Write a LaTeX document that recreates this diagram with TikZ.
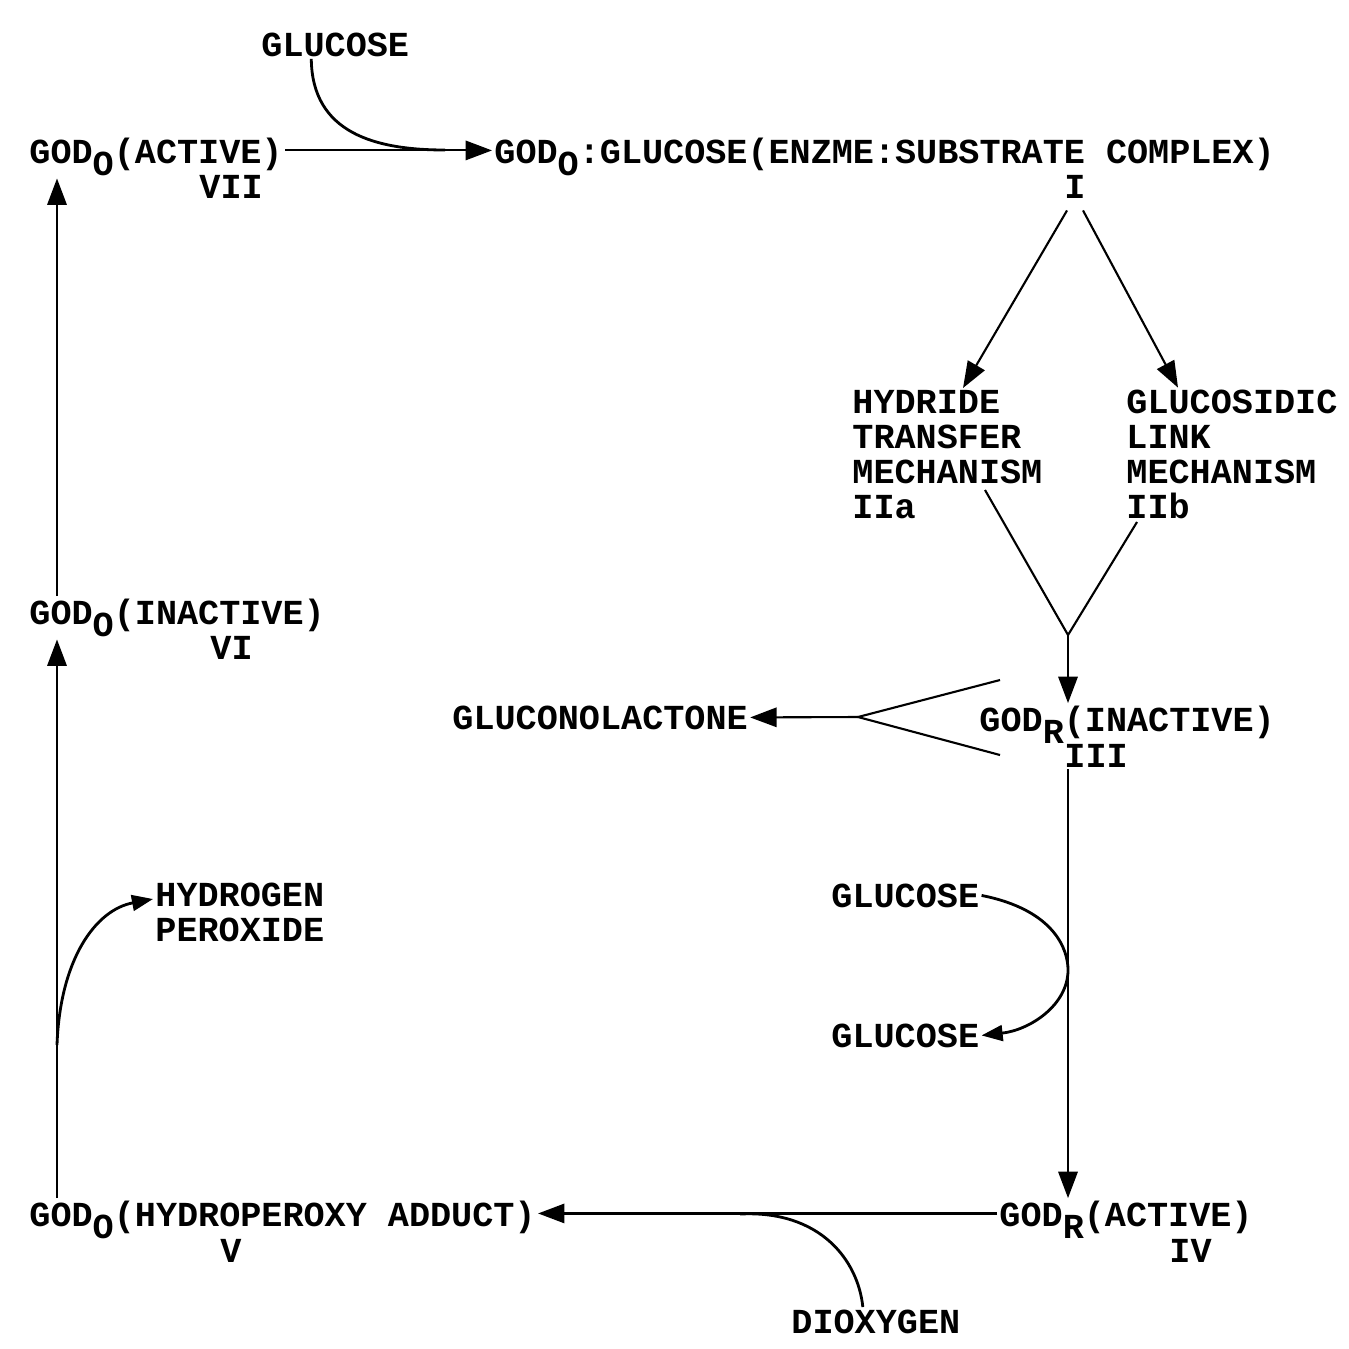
\documentclass[tikz,border=0pt]{standalone}
\usepackage{fontspec}
\setmonofont{Liberation Mono}
\usetikzlibrary{arrows.meta}
\newcommand\lowsub[1]{\raisebox{-0.36em}{#1}}
\tikzset{
  txt/.style={inner sep=0.5pt, anchor=base west, align=left},
  flow/.style={line width=0.6pt},
  arr/.style={flow, -{Triangle[length=7.5pt,width=5.5pt]}},
  curvy/.style={line width=0.8pt},
}
\begin{document}
\begin{tikzpicture}[font=\ttfamily\bfseries\fontsize{10}{9.9}\selectfont]
  \useasboundingbox (0,0) rectangle (13.49,-13.48);
  % species
  \node[txt] (glcin) at (2.59,-0.56) {GLUCOSE};
  \node[txt] (act) at (0.27,-1.63) {GOD\lowsub{O}(ACTIVE)};
  \node[txt] (vii) at (1.97,-1.98) {VII};
  \node[txt] (cplx) at (4.92,-1.63) {GOD\lowsub{O}:GLUCOSE(ENZME:SUBSTRATE COMPLEX)};
  \node[txt] (i) at (10.62,-1.98) {I};
  \node[txt] (hyd) at (8.50,-5.18) {HYDRIDE\\TRANSFER\\MECHANISM\\IIa};
  \node[txt] (lnk) at (11.24,-5.18) {GLUCOSIDIC\\LINK\\MECHANISM\\IIb};
  \node[txt] (inact) at (0.27,-6.24) {GOD\lowsub{O}(INACTIVE)};
  \node[txt] (vi) at (2.08,-6.59) {VI};
  \node[txt] (lact) at (4.50,-7.29) {GLUCONOLACTONE};
  \node[txt] (rinact) at (9.77,-7.31) {GOD\lowsub{R}(INACTIVE)};
  \node[txt] (iii) at (10.62,-7.67) {III};
  \node[txt] (glcon) at (8.29,-9.07) {GLUCOSE};
  \node[txt] (glcoff) at (8.29,-10.47) {GLUCOSE};
  \node[txt] (perox) at (1.53,-9.41) {HYDROGEN\\PEROXIDE};
  \node[txt] (adduct) at (0.27,-12.26) {GOD\lowsub{O}(HYDROPEROXY ADDUCT)};
  \node[txt] (v) at (2.18,-12.62) {V};
  \node[txt] (ract) at (9.97,-12.26) {GOD\lowsub{R}(ACTIVE)};
  \node[txt] (iv) at (11.67,-12.62) {IV};
  \node[txt] (diox) at (7.89,-13.33) {DIOXYGEN};
  % branch points
  \coordinate (join) at (4.45,-1.50);
  \coordinate (ha) at (9.85,-4.90);
  \coordinate (hb) at (11.37,-5.22);
  \coordinate (merge) at (10.68,-6.35);
  \coordinate (ga) at (10.00,-6.80);
  \coordinate (gb) at (10.00,-7.55);
  \coordinate (fork) at (8.58,-7.17);
  \coordinate (hp) at (0.57,-10.45);
  \coordinate (ox) at (7.40,-12.14);
  % top
  \draw[arr] ([yshift=0.5mm]act.mid east) -- ([yshift=0.5mm]cplx.mid west);
  \draw[curvy] ([xshift=-2.4mm]glcin.south) .. controls (3.12,-1.33) and (3.75,-1.50) .. (join);
  \draw[arr] ([xshift=-0.8mm,yshift=-1mm]i.south) -- ([xshift=11.3mm]hyd.north west);
  \draw[arr] ([xshift=0.8mm,yshift=-1mm]i.south) -- ([xshift=5.4mm]lnk.north west);
  % mechanisms converge
  \draw[flow] (ha) -- (merge) -- (hb);
  \draw[arr] (merge) -- (merge |- rinact.north);
  \draw[flow] (ga) -- (fork) -- (gb);
  \draw[arr] (fork) -- (lact.east);
  % right side
  \draw[arr] (iii.south -| merge) -- (merge |- ract.north);
  \draw[curvy, -{Triangle[length=6pt,width=4.5pt]}] (glcon.east) .. controls (10.55,-9.10) and (10.68,-9.50) .. (10.68,-9.70)
    .. controls (10.68,-10.05) and (10.30,-10.30) .. (glcoff.east);
  % bottom
  \draw[arr] ([yshift=0.5mm]ract.mid west) -- ([yshift=0.5mm]adduct.mid east);
  \draw[curvy] ([xshift=-1.3mm]diox.north) .. controls (8.58,-12.60) and (8.20,-12.10) .. (ox);
  % left side
  \draw[arr] ([xshift=3mm]adduct.north west) -- ([xshift=3mm]inact.south west);
  \draw[arr] ([xshift=3mm]inact.north west) -- ([xshift=3mm]act.south west);
  \draw[curvy, -{Triangle[length=6pt,width=4.5pt]}] (hp) .. controls (0.60,-9.60) and (0.95,-9.10) .. ([yshift=4.2mm]perox.base west);
\end{tikzpicture}
\end{document}
